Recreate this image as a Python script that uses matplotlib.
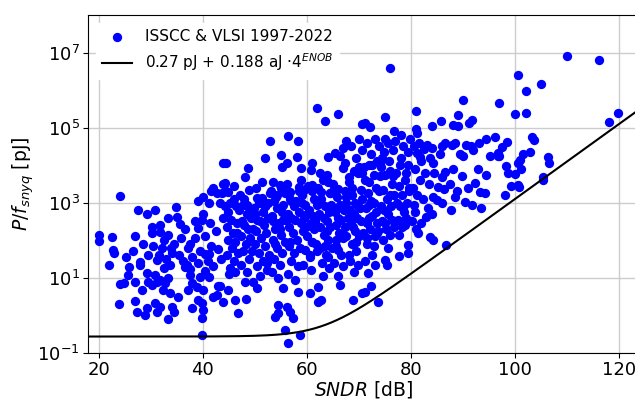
import numpy as np
import matplotlib
matplotlib.use("Agg")
import matplotlib.pyplot as plt
from matplotlib.ticker import NullLocator

# survey points: SNDR [dB] and log10 of P/f_snyq [pJ]
# top outliers
sndr_top = [62.0, 63.5, 66.0, 70.6, 76.0, 75.0, 81.0, 71.2, 72.1, 81.0,
            84.0, 85.8, 89.9, 89.1, 88.1, 89.1, 91.1, 91.7, 97.0]
loge_top = [5.51, 5.18, 5.36, 5.10, 6.60, 5.27, 5.45, 5.13, 5.02, 4.97,
            5.05, 5.18, 5.73, 5.34, 5.07, 5.05, 5.13, 5.21, 5.66]

# high resolution designs
sndr_right = [110.0, 116.1, 100.6, 105.0, 102.0, 100.0, 102.0, 119.8, 118.1, 103.2,
              103.6, 98.4, 96.8, 96.9, 102.9, 101.6, 101.0, 100.6, 98.3, 98.7,
              100.0, 101.2, 106.4, 106.5, 105.4, 105.3, 99.3, 100.8, 100.5]
loge_right = [6.91, 6.81, 6.41, 6.15, 5.98, 5.37, 5.40, 5.40, 5.15, 4.74,
              4.67, 4.61, 4.32, 4.25, 4.36, 4.30, 4.14, 4.05, 3.98, 3.78,
              3.77, 3.89, 4.21, 4.05, 3.69, 3.61, 3.45, 3.41, 3.47]

# 75-97 dB
sndr_mid = [75.0, 81.1, 96.1, 97.4, 95.2, 96.8, 91.5, 90.0, 86.6, 87.8,
            84.0, 82.4, 81.1, 81.7, 83.6, 84.3, 86.6, 88.0, 85.9, 85.1,
            86.4, 84.3, 85.0, 88.5, 90.4, 91.7, 93.5, 92.3, 93.3, 94.2,
            94.5, 87.7, 82.9, 80.8, 81.4, 83.6, 84.3, 86.7, 79.5,
            80.5, 81.5, 82.0, 83.0, 80.8, 81.8, 82.6, 83.5, 80.3, 81.2,
            82.3, 80.6, 83.2, 84.5, 85.5, 86.0, 88.5, 89.5, 90.5, 92.0,
            93.0, 94.5, 87.5, 88.8, 89.8, 91.0, 92.8, 86.0, 84.0, 80.2,
            81.0, 82.0, 98.0]
loge_mid = [4.69, 4.87, 4.76, 4.49, 4.25, 4.25, 4.51, 4.25, 4.58, 4.54,
            4.45, 4.42, 4.33, 4.23, 4.18, 4.05, 3.83, 3.89, 3.69, 3.43,
            3.36, 3.16, 3.07, 3.16, 3.03, 2.94, 2.85, 3.52, 3.29, 3.25,
            3.73, 2.81, 2.63, 2.76, 2.18, 2.09, 2.00, 1.87, 1.87,
            4.50, 4.60, 4.10, 4.55, 3.90, 3.60, 3.80, 3.50, 3.40, 3.20,
            3.10, 2.95, 2.85, 3.80, 4.30, 4.50, 4.60, 4.30, 4.55, 4.40,
            4.60, 4.70, 3.50, 3.30, 3.70, 3.40, 3.90, 3.00, 2.70, 2.50,
            2.30, 2.45, 3.20]

# low resolution designs, 20-44 dB
sndr_left = [20.0, 20.0, 22.5, 24.1, 27.5, 29.2, 30.8, 34.8, 33.4, 35.0,
             35.6, 30.2, 31.8, 30.2, 31.8, 33.4, 35.9, 38.5, 39.0, 39.9,
             41.4, 39.1, 41.1, 42.7, 43.6, 43.9, 43.9, 43.3, 43.9, 32.1,
             33.9, 37.2, 22.8, 43.0,
             23.0, 25.2, 22.0, 25.8, 27.9, 31.1, 31.5, 33.7, 34.0, 32.6,
             36.9, 37.5, 39.1, 40.4, 41.1, 40.4, 41.1, 43.3, 42.7, 43.9,
             24.9, 25.7, 24.1, 27.0, 29.2, 29.5, 30.8, 30.2, 31.1, 28.3,
             32.7, 32.4, 33.7, 35.3, 31.8, 33.4, 30.8, 31.8, 27.3, 28.9,
             29.2, 31.1, 34.1, 34.5, 33.4, 23.8, 27.0, 38.0, 39.1, 39.8,
             40.1, 39.9, 39.9, 37.2, 37.9, 38.8, 40.1, 42.0, 43.0, 39.5,
             37.5, 36.6,
             36.5, 37.5, 38.5, 39.5, 40.5, 41.5, 42.5, 43.5, 41.0, 38.0,
             42.0, 40.0, 28.5, 29.5, 27.0, 30.5, 32.5, 34.5, 35.5, 33.0,
             36.2, 28.0, 26.5]
loge_left = [2.14, 1.98, 2.09, 3.19, 2.81, 2.70, 2.81, 2.89, 2.58, 2.61,
             2.42, 2.36, 2.41, 2.20, 2.23, 2.14, 2.05, 2.05, 2.32, 2.54,
             2.47, 3.05, 3.00, 3.25, 3.25, 3.49, 4.05, 2.98, 2.58, 1.78,
             1.78, 1.78, 1.74, 1.76,
             1.67, 1.56, 1.34, 1.29, 1.43, 1.47, 1.61, 1.34, 1.67, 1.25,
             1.34, 1.07, 1.40, 1.63, 1.63, 1.19, 1.03, 0.78, 0.54, 0.36,
             0.85, 1.07, 0.83, 0.89, 1.12, 0.89, 1.07, 0.81, 0.89, 0.67,
             0.85, 0.67, 0.58, 0.49, 0.94, 0.98, 0.32, 0.23, 0.09, 0.00,
             0.18, 0.09, 0.21, 0.09, -0.11, 0.30, 0.39, 0.18, 0.40, 0.32,
             0.14, -0.08, -0.53, 0.67, 0.85, 0.76, 0.67, 0.49, 0.78, 1.01,
             1.22, 1.29,
             2.30, 1.90, 2.50, 1.70, 2.10, 1.85, 2.25, 1.50, 1.45, 1.55,
             1.30, 2.70, 1.90, 1.60, 2.10, 1.85, 2.00, 1.90, 1.60, 1.50,
             1.45, 1.35, 1.70]

# lowest energy, 44-80 dB
sndr_low = [46.8, 48.2, 44.9, 46.2, 49.7, 48.1, 50.4, 46.2, 55.5, 54.5,
            56.1, 53.9, 54.5, 56.8, 57.4, 55.7, 56.3, 58.7, 58.3, 60.6,
            62.2, 62.8, 66.4, 68.9, 70.5, 62.2, 73.6, 72.4, 71.2, 73.1,
            75.3, 75.0, 77.6, 79.5, 71.8]
loge_low = [0.05, 0.42, 0.67, 0.41, 0.89, 0.89, 0.72, 1.16, 0.72, 0.27,
            0.23, -0.04, 0.05, 0.09, -0.08, -0.39, -0.75, -0.53, 0.63, 0.58,
            0.36, 0.40, 0.81, 0.40, 0.58, 0.76, 0.36, 0.78, 0.63, 1.34,
            1.34, 1.47, 1.58, 1.65, 1.12]

# upper part of the main cloud, 44-80 dB
sndr_upper = [56.4, 58.3, 53.0, 52.0, 55.0, 56.1, 55.2, 58.0, 58.9, 61.0,
              60.8, 44.4, 48.7, 48.1, 53.5, 54.8, 54.2, 56.8, 58.9, 58.5,
              61.0, 62.5, 63.8, 63.2, 64.1, 65.4, 67.0, 66.4, 67.3, 67.0,
              68.0, 69.9, 68.6, 66.0, 64.4, 62.8, 44.9, 44.3, 48.9, 50.4,
              51.3, 52.0,
              70.5, 71.5, 72.3, 73.0, 73.8, 72.0, 73.5, 74.8, 75.5, 76.5,
              77.0, 78.5, 79.5, 76.0, 77.8, 79.0, 75.0, 71.0, 69.5, 70.0,
              68.5, 67.5, 69.0, 72.8, 74.0, 79.8, 78.0, 76.8]
loge_upper = [4.78, 4.65, 4.65, 4.18, 4.27, 4.05, 3.96, 4.23, 3.92, 4.05,
              3.87, 4.05, 3.92, 3.69, 3.56, 3.47, 3.20, 3.29, 3.60, 3.43,
              3.47, 3.78, 3.73, 3.62, 4.23, 4.32, 4.45, 4.25, 4.05, 3.92,
              3.69, 3.78, 3.38, 3.36, 3.25, 3.29, 3.29, 3.52, 2.87, 3.12,
              3.12, 2.91,
              4.40, 4.60, 4.30, 4.70, 4.50, 4.00, 4.10, 4.35, 4.60, 4.40,
              4.65, 4.50, 4.35, 3.85, 4.00, 3.80, 3.75, 3.95, 4.20, 4.70,
              4.50, 4.65, 3.85, 3.75, 4.05, 4.70, 4.80, 4.90]

# dense core of the cloud, 44-80 dB
sndr_core = [44.5, 45.2, 44.8, 45.5, 44.6, 45.8, 44.9, 45.6, 44.7, 46.0, 45.3, 46.3, 46.5, 46.2, 46.8, 45.0,
             47.2, 47.8, 48.4, 47.5, 48.6, 47.3, 48.2, 47.7, 48.8, 47.4, 48.5, 49.0, 49.2, 48.9, 49.4,
             50.3, 50.8, 51.5, 50.5, 51.8, 50.2, 51.2, 52.0, 50.7, 51.6, 50.4, 52.3, 51.0, 52.5, 52.6, 51.4, 52.2, 52.8,
             53.1, 53.6, 54.3, 53.3, 54.6, 53.8, 55.0, 53.4, 54.2, 55.2, 53.7, 54.8, 53.2, 54.5, 55.5, 55.4, 55.7, 55.8,
             56.2, 56.8, 57.5, 56.4, 57.8, 56.6, 57.3, 58.0, 56.5, 57.6, 56.9, 58.2, 56.3, 57.7, 58.4, 58.5, 58.6,
             59.1, 59.7, 60.4, 59.4, 60.7, 59.2, 60.1, 61.0, 59.6, 60.5, 59.3, 60.8, 61.2, 61.4, 61.3, 60.2,
             62.2, 62.8, 63.5, 62.4, 63.8, 62.6, 63.2, 64.0, 62.5, 63.6, 62.9, 64.2, 64.3, 64.5, 63.0, 64.1,
             65.1, 65.7, 66.3, 65.3, 66.6, 65.5, 66.2, 67.0, 65.6, 66.5, 65.2, 66.9, 67.2, 67.3, 67.4, 66.0,
             68.1, 68.7, 69.3, 68.3, 69.6, 68.5, 69.2, 70.0, 68.6, 69.5, 68.2, 69.8, 70.2, 70.3, 70.4, 69.0,
             71.1, 71.7, 72.3, 71.3, 72.6, 71.5, 72.2, 73.0, 71.6, 72.5, 71.2, 73.2, 73.3, 73.4, 72.8,
             74.1, 74.7, 75.3, 74.3, 75.6, 74.5, 75.2, 76.0, 74.6, 75.5, 76.2, 76.3, 76.4, 74.2, 75.8,
             77.1, 77.7, 78.3, 77.3, 78.6, 77.5, 78.2, 79.0, 77.6, 78.8, 79.2, 79.4, 78.0,
             45.9, 46.6, 47.0, 47.9, 48.0, 49.6, 49.8, 50.0, 50.9, 51.9,
             52.4, 53.5, 53.9, 54.0, 54.9, 55.3, 56.0, 56.7, 57.0, 57.9,
             58.8, 59.0, 59.9, 60.0, 60.9, 61.6, 61.8, 62.0, 63.3, 63.9,
             64.6, 64.8, 65.0, 65.9, 66.8, 67.6, 67.8, 68.8, 69.9, 70.6,
             70.8, 71.9, 72.0, 72.9, 73.7, 73.9, 74.9, 75.9, 76.7, 77.9,
             78.9, 79.6]
loge_core = [3.30, 3.00, 2.75, 2.55, 2.35, 2.20, 2.00, 1.80, 1.60, 1.45, 1.25, 2.90, 2.45, 1.95, 1.65, 1.10,
             3.20, 2.95, 2.70, 2.50, 2.30, 2.10, 1.90, 1.70, 1.50, 1.35, 1.15, 2.05, 2.60, 3.35, 1.70,
             3.40, 3.00, 2.75, 2.55, 2.40, 2.25, 2.05, 1.85, 1.65, 1.45, 1.30, 1.20, 1.05, 2.60, 3.00, 3.55, 2.20, 1.60,
             3.30, 3.05, 2.85, 2.65, 2.45, 2.30, 2.15, 2.00, 1.80, 1.65, 1.50, 1.35, 1.15, 1.00, 2.95, 2.55, 1.95, 3.25,
             3.50, 3.10, 2.90, 2.70, 2.55, 2.35, 2.20, 2.00, 1.85, 1.65, 1.45, 1.30, 1.10, 0.95, 2.75, 3.30, 1.80,
             3.20, 2.95, 2.80, 2.60, 2.45, 2.25, 2.10, 1.95, 1.75, 1.55, 1.35, 1.20, 2.65, 3.10, 2.30, 3.45,
             3.40, 3.10, 2.90, 2.70, 2.50, 2.35, 2.15, 2.00, 1.80, 1.60, 1.40, 1.25, 2.75, 3.25, 1.05, 3.55,
             3.50, 3.15, 2.95, 2.75, 2.55, 2.40, 2.20, 2.05, 1.85, 1.60, 1.40, 1.30, 2.80, 3.30, 2.35, 1.05,
             3.55, 3.20, 3.00, 2.80, 2.60, 2.45, 2.25, 2.10, 1.90, 1.70, 1.45, 1.35, 2.85, 3.35, 2.50, 1.15,
             3.60, 3.25, 3.05, 2.85, 2.65, 2.45, 2.30, 2.10, 1.90, 1.60, 1.45, 2.75, 3.40, 2.45, 1.85,
             3.70, 3.35, 3.10, 2.90, 2.70, 2.50, 2.30, 2.15, 2.00, 1.80, 2.90, 3.50, 2.55, 3.95, 4.10,
             3.80, 3.45, 3.20, 3.00, 2.75, 2.55, 2.35, 2.60, 2.15, 3.60, 3.00, 4.00, 4.20,
             3.10, 2.20, 2.80, 2.40, 3.10, 2.30, 2.85, 1.90, 2.50, 2.90,
             1.40, 2.50, 1.90, 3.15, 2.30, 2.75, 2.55, 1.95, 2.60, 3.05,
             2.45, 3.00, 2.35, 2.70, 3.30, 2.50, 1.90, 2.95, 2.60, 2.25,
             2.95, 1.80, 3.30, 2.60, 2.15, 3.00, 2.60, 2.35, 2.90, 3.10,
             2.20, 2.95, 2.60, 3.00, 2.25, 3.30, 2.80, 3.20, 3.20, 2.90,
             2.40, 3.30]

# points filling the gaps of the core
sndr_fill = [53.0, 55.0, 57.0, 59.5, 61.5, 63.0, 64.5, 66.0, 67.5, 69.0,
             70.5, 72.0, 60.5, 62.0, 64.0, 66.0, 68.0, 61.0, 63.5, 65.5,
             67.5, 69.5, 71.5, 73.5, 75.0, 76.8, 78.5, 79.7, 70.0, 72.5,
             74.5, 76.5, 50.0, 52.0, 48.5, 46.0, 44.2, 41.5, 40.0, 42.0]
loge_fill = [3.25, 3.40, 3.05, 3.35, 2.55, 3.60, 2.35, 2.85, 3.15, 2.70,
             3.80, 3.55, 1.60, 1.70, 1.55, 1.75, 1.60, 1.95, 1.85, 2.00,
             2.10, 1.95, 2.05, 2.20, 2.45, 2.35, 2.85, 3.40, 3.95, 4.00,
             4.20, 3.70, 2.70, 2.90, 2.95, 3.45, 2.90, 3.30, 3.15, 3.40]

# energy floor model: 0.27 pJ + 0.188 aJ * 4^ENOB
floor_pj = 0.27
slope_aj = 0.188

sndr = np.array(sndr_top + sndr_right + sndr_mid + sndr_left + sndr_low
                + sndr_upper + sndr_core + sndr_fill)
loge = np.array(loge_top + loge_right + loge_mid + loge_left + loge_low
                + loge_upper + loge_core + loge_fill)
assert sndr.shape == loge.shape
energy = 10.0 ** loge

fig = plt.figure(figsize=(6.35, 4.01), dpi=100)
ax = fig.add_axes([0.1386, 0.1204, 0.8693, 0.8420])

ax.scatter(sndr, energy, s=45, color='blue', linewidths=0, zorder=3,
           label='ISSCC & VLSI 1997-2022')

xs = np.linspace(17.9, 124.0, 400)
enob = (xs - 1.76) / 6.02
ax.plot(xs, floor_pj + slope_aj * 1e-6 * 4.0 ** enob, color='black', lw=1.5, zorder=4,
        label=r'0.27 pJ + 0.188 aJ ·$4^{ENOB}$')

ax.set_yscale('log')
ax.set_xlim(17.94, 124.0)
ax.set_ylim(1e-1, 1e8)
ax.set_xticks([20, 40, 60, 80, 100, 120])
ax.set_yticks([1e-1, 1e1, 1e3, 1e5, 1e7])
ax.yaxis.set_minor_locator(NullLocator())
ax.tick_params(labelsize=13, pad=2.5)
ax.set_axisbelow(True)
ax.grid(True, color='#cccccc', lw=1)

ax.set_xlabel('$SNDR$ [dB]', fontsize=13.5, labelpad=0)
ax.set_ylabel('$P/f_{snyq}$ [pJ]', fontsize=13.5, labelpad=1)

leg = ax.legend(loc='upper left', fontsize=11, framealpha=1, edgecolor='white')

fig.savefig('out.png', dpi=100)
